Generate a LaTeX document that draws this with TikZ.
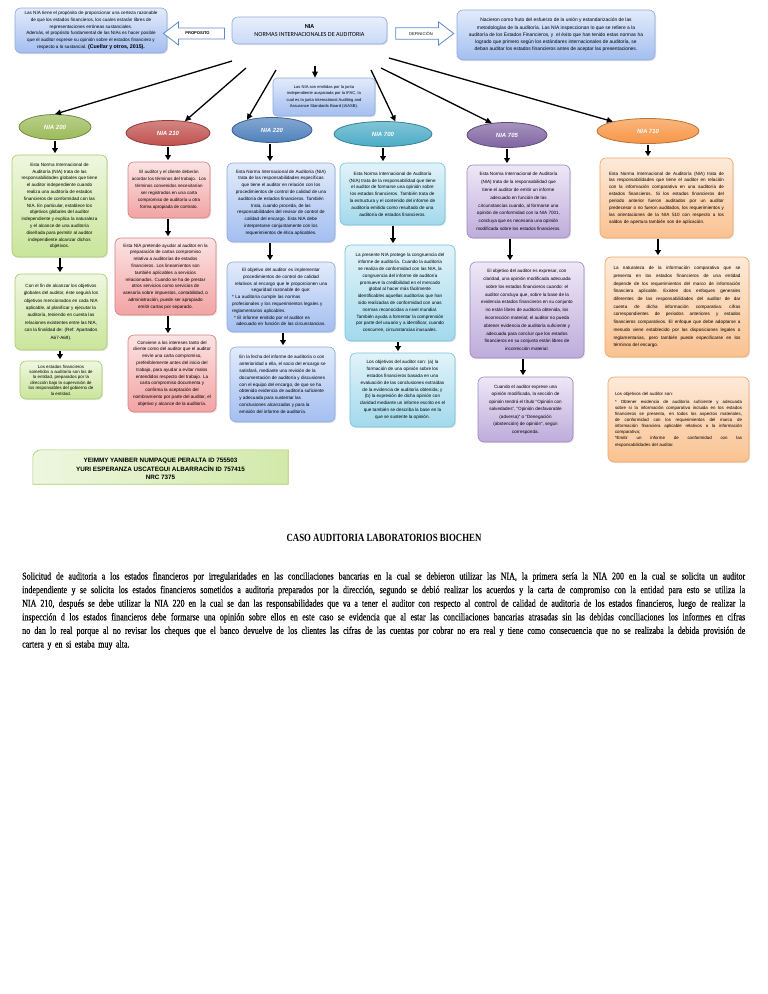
\documentclass[tikz,border=0pt]{standalone}
\usepackage{fontspec}
\setmainfont{Liberation Sans}
\newfontfamily\carlito{Carlito}
\newfontfamily\condserif[FakeStretch=0.77,FakeBold=0.25]{Liberation Serif}
\newfontfamily\condtitle[FakeStretch=0.8]{Liberation Serif}
\usetikzlibrary{shapes.geometric,shapes.arrows,arrows.meta,backgrounds,shadows}

\definecolor{bluetop}{HTML}{E2EBFB}\definecolor{bluebot}{HTML}{A3BEF0}\definecolor{bluebd}{HTML}{8DA9DC}
\definecolor{greentop}{HTML}{EEF7DF}\definecolor{greenbot}{HTML}{C9E59A}\definecolor{greenbd}{HTML}{A8CB6B}
\definecolor{redtop}{HTML}{FCE3E3}\definecolor{redbot}{HTML}{F2A3A3}\definecolor{redbd}{HTML}{D67E7E}
\definecolor{cyantop}{HTML}{E2F3F9}\definecolor{cyanbot}{HTML}{A2D9EC}\definecolor{cyanbd}{HTML}{72C2DB}
\definecolor{purtop}{HTML}{EEE8F6}\definecolor{purbot}{HTML}{BEABDB}\definecolor{purbd}{HTML}{9B86BF}
\definecolor{ortop}{HTML}{FDEAD9}\definecolor{orbot}{HTML}{FAC291}\definecolor{orbd}{HTML}{F2A362}
\definecolor{eGreen}{HTML}{9BBB59}\definecolor{eRed}{HTML}{C0504D}\definecolor{eBlue}{HTML}{4F81BD}
\definecolor{eCyan}{HTML}{4BACC6}\definecolor{ePur}{HTML}{8064A2}\definecolor{eOr}{HTML}{F79646}
\definecolor{arrbd}{HTML}{5B8BCB}

\tikzset{
  base/.style={rounded corners=6pt, align=center, inner xsep=1pt, inner ysep=2pt,
    font=\fontsize{4.6}{6.8}\selectfont, line width=0.6pt,
    drop shadow={opacity=0.18, shadow xshift=1.2pt, shadow yshift=-1.2pt}},
  bluebox/.style={base, draw=bluebd, top color=bluetop, bottom color=bluebot},
  greenbox/.style={base, draw=greenbd, top color=greentop, bottom color=greenbot},
  redbox/.style={base, draw=redbd, top color=redtop, bottom color=redbot},
  cyanbox/.style={base, draw=cyanbd, top color=cyantop, bottom color=cyanbot},
  purbox/.style={base, draw=purbd, top color=purtop, bottom color=purbot},
  orbox/.style={base, draw=orbd, top color=ortop, bottom color=orbot},
  ell/.style={ellipse, draw=#1!75!black, top color=#1!70!white, bottom color=#1,
    line width=0.8pt, text=white, inner sep=0pt, minimum height=25pt,
    font=\fontsize{6}{7}\selectfont\bfseries\itshape},
  varr/.style={line width=1.4pt, -{Triangle[width=5.5pt,length=5pt]}, shorten <=1pt, shorten >=1.5pt},
  darr/.style={line width=1.3pt, -{Triangle[width=5.5pt,length=6pt]}},
  blockarr/.style={single arrow, draw=arrbd, fill=white, line width=0.8pt,
    minimum width=23pt, single arrow head extend=6pt, single arrow tip angle=75,
    inner xsep=2pt, inner ysep=3.5pt, font=\fontsize{4.1}{5}\selectfont},
}

\newcommand{\mkbox}[7]{%
  \pgfmathsetmacro{\bxw}{#5-#3}%
  \pgfmathsetmacro{\bxh}{#6-#4}%
  \node[minimum width=\bxw pt, minimum height=\bxh pt, #1] (#2) at ({(#3+#5)/2},{(#4+#6)/2}) {#7};}
\newcommand{\jline}[2]{{\spaceskip=0.25em plus 1fil\relax\xspaceskip=0.3em plus 1fil\relax\makebox[#1][s]{#2}}\\}
\newcommand{\varrow}[3]{\coordinate (vx) at (#3,0); \draw[varr] (#1.south -| vx) -- (#2.north -| vx);}

\begin{document}
\begin{tikzpicture}[x=1pt,y=-1pt]
\useasboundingbox (0,0) rectangle (768,994);
\begin{pgfonlayer}{background}
\fill[white] (0,0) rectangle (768,994);
\end{pgfonlayer}

% ---------- top row ----------
\mkbox{bluebox, font=\fontsize{4.6}{6.7}\selectfont}{tl}{15}{8}{167}{53}{Las NIA tiene el propósito de proporcionar una certeza razonable\\ de que los estados financieros, los cuales estarán libres de\\ representaciones erróneas sustanciales.\\ Además, el propósito fundamental de las NIAs es hacer posible\\ que el auditor exprese su opinión sobre el estados financiero y\\ respecto a lo sustancial. {\fontsize{5.3}{6.7}\selectfont\bfseries (Cuellar y otros, 2015).}}

\node[blockarr, shape border rotate=180, minimum height=61pt] (ap) at (197.5,33.5) {\bfseries PROPOSITO};

\mkbox{bluebox, top color=bluetop!80!white, bottom color=bluetop!60!bluebot, font=\carlito\fontsize{6.2}{8.3}\selectfont}{nia}{232}{17}{387}{44}{{\bfseries NIA}\\ NORMAS INTERNACIONALES DE AUDITORIA}

\node[blockarr, minimum height=58pt] (ad) at (421,33.5) {DEFINICIÓN};

\mkbox{bluebox, font=\fontsize{4.9}{7.2}\selectfont}{tr}{457}{10}{655}{60}{Nacieron como fruto del esfuerzo de la unión y estandarización de las\\ metodologías de la auditoría. Las NIA inspeccionan lo que se refiere a la\\ auditoría de los Estados Financieros, y \ el éxito que han tenido estas normas ha\\ logrado que primero según los estándares internacionales de auditoría, se\\ deban auditar los estados financieros antes de aceptar las presentaciones.}

% ---------- small centre box ----------
\mkbox{bluebox, rounded corners=4pt, font=\fontsize{4.1}{6.2}\selectfont}{sb}{273}{78}{375}{116}{Las NIA son emitidas por la junta\\ independiente auspiciada por la IFAC, la\\ cual es la junta International Auditing and\\ Assurance Standards Board (IAASB).}

% ---------- ellipses ----------
\node[ell=eGreen, minimum width=72pt] (e1) at (55,127) {NIA 200};
\node[ell=eRed, minimum width=84pt] (e2) at (168,133) {NIA 210};
\node[ell=eBlue, minimum width=80pt] (e3) at (272,130) {NIA 220};
\node[ell=eCyan, minimum width=98pt] (e4) at (383,134) {NIA 700};
\node[ell=ePur, minimum width=80pt] (e5) at (507,135) {NIA 705};
\node[ell=eOr, minimum width=102pt] (e6) at (648,131) {NIA 710};

% ---------- diagonal connectors ----------
\coordinate (s1) at (232,61);
\coordinate (s2) at (246,68);
\coordinate (s3) at (276,70);
\coordinate (s4) at (315,66);
\coordinate (s5) at (371,70);
\coordinate (s6) at (381,68);
\coordinate (s7) at (389,58);
\draw[darr] (s1) -- (e1.north);
\draw[darr] (s2) -- (e2.35);
\draw[darr] (s3) -- (e3.158);
\draw[darr] (s4) -- (s4 |- sb.north);
\draw[darr] (s5) -- (e4.45);
\draw[darr] (s6) -- (e5.142);
\draw[darr] (s7) -- (e6.165);

% ---------- column 1 : NIA 200 ----------
\mkbox{greenbox}{c1b1}{12}{155}{107}{257}{Esta Norma Internacional de\\ Auditoría (NIA) trata de las\\ responsabilidades globales que tiene\\ el auditor independiente cuando\\ realiza una auditoría de estados\\ financieros de conformidad con las\\ NIA. En particular, establece los\\ objetivos globales del auditor\\ independiente y explica la naturaleza\\ y el alcance de una auditoría\\ diseñada para permitir al auditor\\ independiente alcanzar dichos\\ objetivos.}
\mkbox{greenbox, font=\fontsize{4.6}{7.4}\selectfont}{c1b2}{15}{274}{107}{350}{Con el fin de alcanzar los objetivos\\ globales del auditor, éste seguirá los\\ objetivos mencionados en cada NIA\\ aplicable, al planificar y ejecutar la\\ auditoría, teniendo en cuenta las\\ relaciones existentes entre las NIA,\\ con la finalidad de: (Ref: Apartados\\ A67-A69).}
\mkbox{greenbox, font=\fontsize{4.4}{5.4}\selectfont}{c1b3}{20}{361}{102}{399}{Los estados financieros\\ sometidos a auditoría son los de\\ la entidad, preparados por la\\ dirección bajo la supervisión de\\ los responsables del gobierno de\\ la entidad.}

% ---------- column 2 : NIA 210 ----------
\mkbox{redbox, font=\fontsize{4.5}{7}\selectfont}{c2b1}{128}{162}{210}{218}{El auditor y el cliente deberán\\ acordar los términos del trabajo. \ Los\\ términos convenidos necesitarían\\ ser registrados en una carta\\ compromiso de auditoría u otra\\ forma apropiada de contrato.}
\mkbox{redbox}{c2b2}{115}{238}{216}{315}{Esta NIA pretende ayudar al auditor en la\\ preparación de cartas compromiso\\ relativa a auditorías de estados\\ financieros. Los lineamientos son\\ también aplicables a servicios\\ relacionados. Cuando se ha de prestar\\ otros servicios como servicios de\\ asesoría sobre impuestos, contabilidad, o\\ administración, puede ser apropiado\\ emitir cartas por separado.}
\mkbox{redbox}{c2b3}{128}{335}{216}{412}{Conviene a los intereses tanto del\\ cliente como del auditor que el auditor\\ envíe una carta compromiso,\\ preferiblemente antes del inicio del\\ trabajo, para ayudar a evitar malos\\ entendidos respecto del trabajo. La\\ carta compromiso documenta y\\ confirma la aceptación del\\ nombramiento por parte del auditor, el\\ objetivo y alcance de la auditoría.}

% ---------- column 3 : NIA 220 ----------
\mkbox{bluebox}{c3b1}{227}{163}{335}{242}{Esta Norma Internacional de Auditoría (NIA)\\ trata de las responsabilidades específicas\\ que tiene el auditor en relación con los\\ procedimientos de control de calidad de una\\ auditoría de estados financieros. También\\ trata, cuando proceda, de las\\ responsabilidades del revisor de control de\\ calidad del encargo. Esta NIA debe\\ interpretarse conjuntamente con los\\ requerimientos de ética aplicables.}
\mkbox{bluebox, text width=98pt}{c3b2}{227}{262}{335}{332}{El objetivo del auditor es implementar\\ procedimientos de control de calidad\\ relativos al encargo que le proporcionen una\\ seguridad razonable de que:\par\raggedright * La auditoría cumple las normas\\ profesionales y los requerimientos legales y\\ reglamentarios aplicables.\\ \hspace*{2pt}* El informe emitido por el auditor es\\ adecuado en función de las circunstancias.}
\mkbox{bluebox, align=left}{c3b3}{230}{347}{335}{422}{En la fecha del informe de auditoría o con\\ anterioridad a ella, el socio del encargo se\\ satisfará, mediante una revisión de la\\ documentación de auditoría y discusiones\\ con el equipo del encargo, de que se ha\\ obtenido evidencia de auditoría suficiente\\ y adecuada para sustentar las\\ conclusiones alcanzadas y para la\\ emisión del informe de auditoría.}

% ---------- column 4 : NIA 700 ----------
\mkbox{cyanbox}{c4b1}{340}{163}{445}{225}{Esta Norma Internacional de Auditoría\\ (NIA) trata de la responsabilidad que tiene\\ el auditor de formarse una opinión sobre\\ los estados financieros. También trata de\\ la estructura y el contenido del informe de\\ auditoría emitido como resultado de una\\ auditoría de estados financieros.}
\mkbox{cyanbox}{c4b2}{345}{245}{455}{341}{La presente NIA protege la congruencia del\\ informe de auditoría. Cuando la auditoría\\ se realiza de conformidad con las NIA, la\\ congruencia del informe de auditoría\\ promueve la credibilidad en el mercado\\ global al hacer más fácilmente\\ identificables aquellas auditorías que han\\ sido realizadas de conformidad con unas\\ normas reconocidas a nivel mundial.\\ También ayuda a fomentar la comprensión\\ por parte del usuario y a identificar, cuando\\ concurren, circunstancias inusuales.}
\mkbox{cyanbox}{c4b3}{350}{353}{455}{427}{Los objetivos del auditor son: (a) la\\ formación de una opinión sobre los\\ estados financieros basada en una\\ evaluación de las conclusiones extraídas\\ de la evidencia de auditoría obtenida; y\\ (b) la expresión de dicha opinión con\\ claridad mediante un informe escrito en el\\ que también se describa la base en la\\ que se sustente la opinión.}

% ---------- column 5 : NIA 705 ----------
\mkbox{purbox, font=\fontsize{4.6}{7.8}\selectfont}{c5b1}{467}{165}{570}{238}{Esta Norma Internacional de Auditoría\\ (NIA) trata de la responsabilidad que\\ tiene el auditor de emitir un informe\\ adecuado en función de las\\ circunstancias cuando, al formarse una\\ opinión de conformidad con la NIA 7001,\\ concluya que es necesaria una opinión\\ modificada sobre los estados financieros.}
\mkbox{purbox, font=\fontsize{4.6}{7.8}\selectfont}{c5b2}{470}{262}{584}{358}{El objetivo del auditor es expresar, con\\ claridad, una opinión modificada adecuada\\ sobre los estados financieros cuando: el\\ auditor concluya que, sobre la base de la\\ evidencia estados financieros en su conjunto\\ no están libres de auditoría obtenida, los\\ incorrección material; el auditor no pueda\\ obtener evidencia de auditoría suficiente y\\ adecuada para concluir que los estados\\ financieros en su conjunto están libres de\\ incorrección material.}
\mkbox{purbox, font=\fontsize{4.6}{7.5}\selectfont}{c5b3}{478}{377}{573}{442}{Cuando el auditor exprese una\\ opinión modificada, la sección de\\ opinión tendrá el título “Opinión con\\ salvedades”, “Opinión desfavorable\\ (adversa)” o “Denegación\\ (abstención) de opinión”, según\\ corresponda.}

% ---------- column 6 : NIA 710 ----------
\mkbox{orbox, align=left, text width=115pt, font=\fontsize{4.6}{6.9}\selectfont}{c6b1}{600}{158}{733}{238}{\jline{115pt}{Esta Norma Internacional de Auditoría (NIA) trata de}\jline{115pt}{las responsabilidades que tiene el auditor en relación}\jline{115pt}{con la información comparativa en una auditoría de}\jline{115pt}{estados financieros. Si los estados financieros del}\jline{115pt}{periodo anterior fueron auditados por un auditor}\jline{115pt}{predecesor o no fueron auditados, los requerimientos y}\jline{115pt}{las orientaciones de la NIA 510 con respecto a los}saldos de apertura también son de aplicación.}
\mkbox{orbox, align=left, text width=127pt, font=\fontsize{4.6}{7.7}\selectfont}{c6b2}{605}{257}{749}{357}{\jline{127pt}{La naturaleza de la información comparativa que se}\jline{127pt}{presenta en los estados financieros de una entidad}\jline{127pt}{depende de los requerimientos del marco de información}\jline{127pt}{financiera aplicable. Existen dos enfoques generales}\jline{127pt}{diferentes de las responsabilidades del auditor de dar}\jline{127pt}{cuenta de dicha información comparativa: cifras}\jline{127pt}{correspondientes de periodos anteriores y estados}\jline{127pt}{financieros comparativos. El enfoque que debe adoptarse a}\jline{127pt}{menudo viene establecido por las disposiciones legales o}\jline{127pt}{reglamentarias, pero también puede especificarse en los}términos del encargo.}
\mkbox{orbox, align=left, text width=127pt, font=\fontsize{4.4}{6.1}\selectfont}{c6b3}{608}{377}{749}{462}{Los objetivos del auditor son:\\[2pt]\jline{127pt}{* Obtener evidencia de auditoría suficiente y adecuada}\jline{127pt}{sobre si la información comparativa incluida en los estados}\jline{127pt}{financieros se presenta, en todos los aspectos materiales,}\jline{127pt}{de conformidad con los requerimientos del marco de}\jline{127pt}{información financiera aplicable relativos a la información}comparativa;\\ \jline{127pt}{*Emitir un informe de conformidad con las}responsabilidades del auditor.}

% ---------- vertical connectors ----------
\varrow{e1}{c1b1}{55}
\varrow{c1b1}{c1b2}{60}
\varrow{c1b2}{c1b3}{60}
\varrow{e2}{c2b1}{168}
\varrow{c2b1}{c2b2}{168}
\varrow{c2b2}{c2b3}{168}
\varrow{e3}{c3b1}{270}
\varrow{c3b1}{c3b2}{270}
\varrow{c3b2}{c3b3}{283}
\varrow{e4}{c4b1}{383}
\varrow{c4b1}{c4b2}{393}
\varrow{c4b2}{c4b3}{398}
\varrow{e5}{c5b1}{507}
\varrow{c5b1}{c5b2}{510}
\varrow{c5b2}{c5b3}{523}
\varrow{e6}{c6b1}{648}
\varrow{c6b1}{c6b2}{658}

% ---------- authors ----------
\node[minimum width=255pt, minimum height=34pt, align=center, inner sep=0pt,
  font=\fontsize{6.3}{8.6}\selectfont\bfseries] (names) at (160.5,469)
  {YEIMMY YANIBER NUMPAQUE PERALTA ID 755503\\ YURI ESPERANZA USCATEGUI ALBARRACÍN ID 757415\\ NRC 7375};
\begin{pgfonlayer}{background}
\path[draw=greenbd, line width=0.6pt, left color=greentop, right color=greenbot!85!white]
  ([yshift=2pt]names.south west) -- ([yshift=-6pt]names.north west) arc[start angle=180, end angle=90, radius=8pt]
  -- ([yshift=2pt]names.north east) -- ([yshift=2pt]names.south east) -- cycle;
\end{pgfonlayer}

% ---------- case text ----------
\node[font=\condtitle\bfseries\fontsize{11}{13}\selectfont] (title) at (384,538) {CASO AUDITORIA LABORATORIOS BIOCHEN};

\node[anchor=north west, inner sep=0pt, text width=723pt, align=left,
  font=\condserif\fontsize{10.4}{13.6}\selectfont] (para) at (22,572)
  {\jline{723pt}{Solicitud de auditoria a los estados financieros por irregularidades en las conciliaciones bancarias en la cual se debieron utilizar las NIA, la primera sería la NIA 200 en la cual se solicita un auditor}\jline{723pt}{independiente y se solicita los estados financieros sometidos a auditoria preparados por la dirección, segundo se debió realizar los acuerdos y la carta de compromiso con la entidad para esto se utiliza la}\jline{723pt}{NIA 210, después se debe utilizar la NIA 220 en la cual se dan las responsabilidades que va a tener el auditor con respecto al control de calidad de auditoria de los estados financieros, luego de realizar la}\jline{723pt}{inspección d los estados financieros debe formarse una opinión sobre ellos en este caso se evidencia que al estar las conciliaciones bancarias atrasadas sin las debidas conciliaciones los informes en cifras}\jline{723pt}{no dan lo real porque al no revisar los cheques que el banco devuelve de los clientes las cifras de las cuentas por cobrar no era real y tiene como consecuencia que no se realizaba la debida provisión de}cartera y en si estaba muy alta.};
\end{tikzpicture}
\end{document}
